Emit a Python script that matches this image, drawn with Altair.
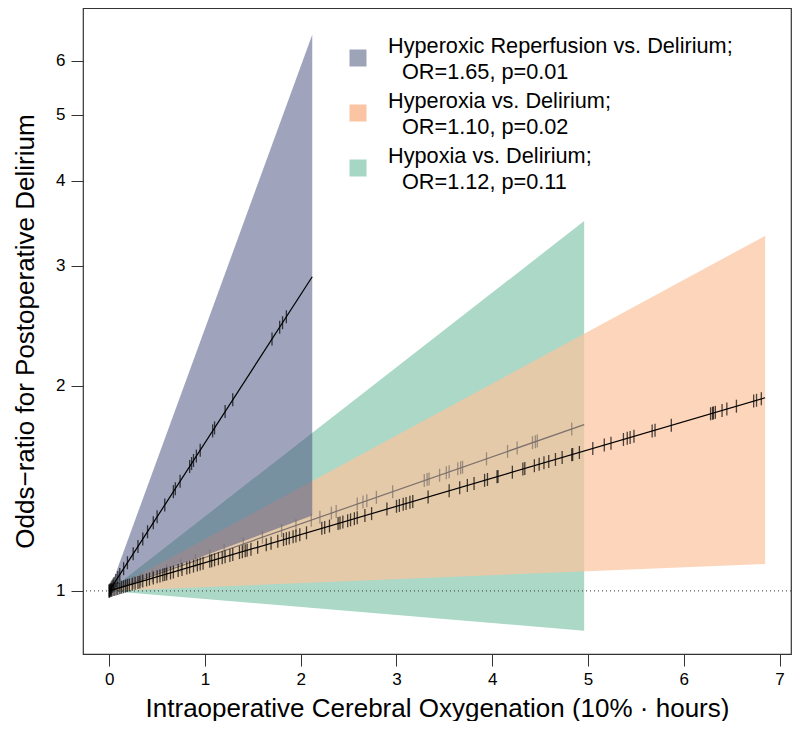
import altair as alt
import pandas as pd

# ---- data ----
series = ["Hyperoxic Reperfusion", "Hyperoxia", "Hypoxia"]
odds_ratio = [1.65, 1.10, 1.12]          # per 10%·hour
x_end = [2.12, 6.85, 4.96]               # last observed exposure
ci_low_end = [1.29, 1.095, 0.874]        # lower CI at x_end
ci_high_end = [6.55, 3.32, 3.49]         # upper CI at x_end

reperfusion_x = [0.0, 0.01, 0.02, 0.03, 0.04, 0.05, 0.07, 0.09, 0.11, 0.15, 0.19,
                 0.25, 0.30, 0.35, 0.40, 0.46, 0.50, 0.58, 0.67, 0.69, 0.74, 0.84,
                 0.86, 0.88, 0.91, 0.95, 1.08, 1.10, 1.21, 1.29, 1.70, 1.78, 1.81, 1.85]
hyperoxia_x = [0.0, 0.01, 0.02, 0.03, 0.05, 0.07, 0.09, 0.11, 0.13, 0.15, 0.17, 0.19,
               0.21, 0.24, 0.27, 0.30, 0.32, 0.35, 0.39, 0.42, 0.46, 0.50, 0.53, 0.56,
               0.58, 0.60, 0.64, 0.67, 0.72, 0.76, 0.81, 0.84, 0.88, 0.92, 0.95, 0.98,
               1.05, 1.07, 1.10, 1.14, 1.18, 1.21, 1.26, 1.29, 1.36, 1.39, 1.42, 1.44,
               1.48, 1.55, 1.64, 1.69, 1.76, 1.82, 1.85, 1.88, 1.92, 1.95, 1.99, 2.06,
               2.22, 2.25, 2.30, 2.39, 2.41, 2.44, 2.49, 2.52, 2.56, 2.59, 2.67, 2.74,
               2.90, 3.00, 3.03, 3.07, 3.10, 3.14, 3.17, 3.33, 3.55, 3.66, 3.74, 3.81,
               3.92, 3.95, 4.05, 4.06, 4.21, 4.32, 4.34, 4.44, 4.49, 4.54, 4.59, 4.66,
               4.73, 4.83, 4.84, 4.91, 5.05, 5.17, 5.24, 5.37, 5.41, 5.44, 5.48, 5.67,
               5.70, 5.87, 6.28, 6.30, 6.31, 6.33, 6.40, 6.45, 6.55, 6.73, 6.76, 6.81]
hypoxia_x = [0.0, 0.02, 0.05, 0.08, 0.12, 0.18, 0.25, 0.33, 0.45, 0.60, 0.75, 0.90,
             1.05, 1.20, 1.40, 1.60, 1.80, 1.95, 2.11, 2.20, 2.32, 2.37, 2.59, 2.65,
             2.69, 2.79, 2.96, 3.29, 3.32, 3.34, 3.45, 3.52, 3.55, 3.64, 3.67, 3.69,
             3.94, 4.16, 4.26, 4.42, 4.45, 4.47, 4.83]
tick_x = [reperfusion_x, hyperoxia_x, hypoxia_x]

legend_names = ["Hyperoxic Reperfusion vs. Delirium;", "Hyperoxia vs. Delirium;",
                "Hypoxia vs. Delirium;"]
legend_stats = ["OR=1.65, p=0.01", "OR=1.10, p=0.02", "OR=1.12, p=0.11"]

x_ticks = [0, 1, 2, 3, 4, 5, 6, 7]
y_ticks = [1, 2, 3, 4, 5, 6]

# ---- styles ----
band_fill = ["#46517e", "#fbc5a0", "#abd8c7"]
band_opacity = [0.52, 0.72, 1.0]
line_color = ["#000000", "#000000", "#7a706c"]
legend_fill = ["#9ea4b8", "#fbc4a2", "#a6d6c4"]
FONT = "Liberation Sans"

x_scale = alt.Scale(domain=[-0.274, 7.12], nice=False, zero=False)
y_scale = alt.Scale(type="log", domain=[0.808, 7.17], nice=False)

x_enc_kw = dict(scale=x_scale,
                axis=alt.Axis(values=x_ticks, format="d",
                              title="Intraoperative Cerebral Oxygenation (10% · hours)",
                              labelPadding=5, titlePadding=8))
y_enc_kw = dict(scale=y_scale,
                axis=alt.Axis(values=y_ticks, title="Odds\u2212ratio for Postoperative Delirium",
                              labelPadding=6, titlePadding=17, format="d"))

# bands
band_rows = []
for i, s in enumerate(series):
    band_rows.append({"series": s, "x": 0.0, "lo": 1.0, "hi": 1.0})
    band_rows.append({"series": s, "x": x_end[i], "lo": ci_low_end[i], "hi": ci_high_end[i]})
band_df = pd.DataFrame(band_rows)

# lines
line_rows = []
for i, s in enumerate(series):
    line_rows.append({"series": s, "x": 0.0, "OR": odds_ratio[i]})
    line_rows.append({"series": s, "x": x_end[i], "OR": odds_ratio[i]})
line_df = pd.DataFrame(line_rows)

layers = []
# draw order: hypoxia (green), hyperoxia (orange), reperfusion (grey)
for i in [2, 1, 0]:
    layers.append(
        alt.Chart(band_df[band_df.series == series[i]])
        .mark_area(color=band_fill[i], opacity=band_opacity[i])
        .encode(x=alt.X("x:Q", **x_enc_kw), y=alt.Y("lo:Q", **y_enc_kw), y2="hi:Q")
    )

layers.append(
    alt.Chart(pd.DataFrame({"v": [1]}))
    .mark_rule(color="#333333", strokeDash=[1, 3], strokeWidth=1)
    .encode(y=alt.Y("v:Q", scale=y_scale))
)

for i in [2, 1, 0]:
    layers.append(
        alt.Chart(line_df[line_df.series == series[i]])
        .transform_calculate(y="pow(datum.OR, datum.x)")
        .mark_line(color=line_color[i], strokeWidth=1.2)
        .encode(x=alt.X("x:Q", scale=x_scale), y=alt.Y("y:Q", scale=y_scale))
    )
    tdf = pd.DataFrame({"x": tick_x[i], "OR": odds_ratio[i]})
    layers.append(
        alt.Chart(tdf)
        .transform_calculate(y="pow(datum.OR, datum.x)")
        .mark_tick(orient="vertical", color=line_color[i], size=13, thickness=1.3)
        .encode(x=alt.X("x:Q", scale=x_scale), y=alt.Y("y:Q", scale=y_scale))
    )

# manual legend (pixel positions inside plot area)
one = pd.DataFrame({"a": [0]})
for i in range(3):
    cy = 50 + 55 * i
    layers.append(
        alt.Chart(one).mark_square(color=legend_fill[i], opacity=1, size=289)
        .encode(x=alt.value(275), y=alt.value(cy))
    )
    layers.append(
        alt.Chart(one).mark_text(text=legend_names[i], font=FONT, fontSize=21.7,
                                 align="left", baseline="alphabetic", color="black")
        .encode(x=alt.value(305), y=alt.value(cy - 5))
    )
    layers.append(
        alt.Chart(one).mark_text(text=legend_stats[i], font=FONT, fontSize=21.7,
                                 align="left", baseline="alphabetic", color="black")
        .encode(x=alt.value(319), y=alt.value(cy + 21))
    )

chart = (
    alt.layer(*layers)
    .properties(width=708, height=646, padding={"left": 4, "top": 0, "right": 0, "bottom": 0})
    .configure_view(stroke="#333333", strokeWidth=1.2)
    .configure_axis(grid=False, domain=False, tickSize=12, tickColor="#333333", tickWidth=1,
                    labelFont=FONT, labelFontSize=17, labelColor="black",
                    titleFont=FONT, titleFontSize=26, titleFontWeight="normal", titleColor="black")
)

chart.save("out.html", embed_options={"renderer": "svg", "actions": False})
